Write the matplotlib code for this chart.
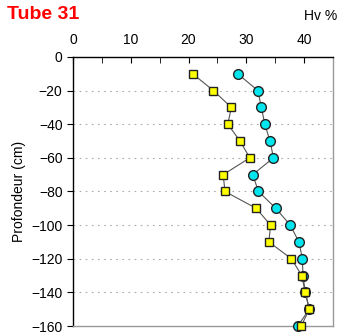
import matplotlib
matplotlib.use("Agg")
import matplotlib.pyplot as plt
from matplotlib.ticker import MultipleLocator

depth = [-10, -20, -30, -40, -50, -60, -70, -80, -90, -100, -110, -120, -130, -140, -150, -160]
hv_squares = [20.7, 24.3, 27.4, 26.8, 28.9, 30.6, 26.0, 26.3, 31.7, 34.2, 33.9, 37.8, 39.6, 40.2, 40.9, 39.5]
hv_circles = [28.5, 32.0, 32.6, 33.2, 34.1, 34.7, 31.1, 32.1, 35.1, 37.6, 39.1, 39.7, 39.8, 40.2, 40.9, 38.9]

plt.rcParams['font.family'] = ['Liberation Sans', 'DejaVu Sans']

fig = plt.figure(figsize=(3.39, 3.33), dpi=100)
ax = fig.add_axes([0.2153, 0.021, 0.767, 0.808])

ax.plot(hv_circles, depth, color='#555555', lw=0.8, marker='o', ms=7,
        mfc='#00e5ee', mec='#222222', mew=1.0, clip_on=False, zorder=3)
ax.plot(hv_squares, depth, color='#555555', lw=0.8, marker='s', ms=6,
        mfc='#ffff00', mec='#222222', mew=1.0, clip_on=False, zorder=4)

ax.set_xlim(0, 45)
ax.set_ylim(-160, 0)
ax.xaxis.set_major_locator(MultipleLocator(10))
ax.xaxis.set_minor_locator(MultipleLocator(5))
ax.yaxis.set_major_locator(MultipleLocator(20))
ax.set_xticks([0, 10, 20, 30, 40])
ax.xaxis.tick_top()
ax.tick_params(axis='x', which='both', direction='in', length=4, labelsize=10, pad=7)
ax.tick_params(axis='y', direction='out', length=4, labelsize=10)

for y in [-20, -40, -60, -80, -100, -120, -140]:
    ax.axhline(y, color='#aaaaaa', lw=0.8, ls=(0, (1.5, 4)), zorder=1)

ax.spines['left'].set_color('black')
ax.spines['top'].set_color('black')
ax.spines['right'].set_color('#999999')
ax.spines['bottom'].set_color('#999999')
for s in ax.spines.values():
    s.set_linewidth(1.0)

ax.set_ylabel('Profondeur (cm)', fontsize=10, labelpad=4)
fig.text(0.022, 0.955, 'Tube 31', color='red', fontsize=14, fontweight='bold', va='center', ha='left')
fig.text(0.995, 0.953, 'Hv %', fontsize=10, va='center', ha='right')

fig.savefig('out.png', dpi=100)
